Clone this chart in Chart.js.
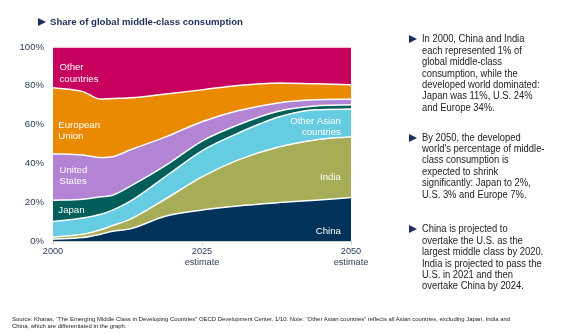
<!DOCTYPE html>
<html>
<head>
<meta charset="utf-8">
<script src="https://cdn.jsdelivr.net/npm/chart.js@4.4.1/dist/chart.umd.min.js"></script>
<style>
  body { margin: 0; width: 564px; height: 334px; background: #fff; overflow: hidden;
         font-family: "Liberation Sans", Arial, sans-serif; position: relative; }
  #chart { position: absolute; left: 0; top: 0; }
  .tri { display: inline-block; width: 0; height: 0; border-top: 4px solid transparent;
         border-bottom: 4px solid transparent; border-left: 8px solid #1b2f5c; }
  #title { position: absolute; left: 38px; top: 16px; font-size: 9.6px; font-weight: bold; color: #1b2f5c; white-space: nowrap; }
  #title .tri { position: absolute; left: 0; top: 2px; }
  #title span.t { margin-left: 12px; }
  .note { position: absolute; left: 409px; font-size: 10px; line-height: 11.4px; color: #222; white-space: nowrap; }
  .note .tri { position: absolute; left: 0; top: 2px; border-left-color: #1b2f5c; }
  .note .txt { position: absolute; left: 13px; top: 0; transform: scaleX(0.94); transform-origin: 0 0; }
  #src { position: absolute; left: 12px; top: 315.5px; font-size: 5.93px; line-height: 7.6px; color: #222; white-space: nowrap; }
</style>
</head>
<body>
<canvas id="chart" width="564" height="334"></canvas>
<div id="title"><i class="tri"></i><span class="t">Share of global middle-class consumption</span></div>
<div class="note" style="top:33.3px"><i class="tri"></i><div class="txt">In 2000, China and India<br>each represented 1% of<br>global middle-class<br>consumption, while the<br>developed world dominated:<br>Japan was 11%, U.S. 24%<br>and Europe 34%.</div></div>
<div class="note" style="top:131.6px"><i class="tri"></i><div class="txt">By 2050, the developed<br>world's percentage of middle-<br>class consumption is<br>expected to shrink<br>significantly: Japan to 2%,<br>U.S. 3% and Europe 7%.</div></div>
<div class="note" style="top:223.3px"><i class="tri"></i><div class="txt">China is projected to<br>overtake the U.S. as the<br>largest middle class by 2020.<br>India is projected to pass the<br>U.S. in 2021 and then<br>overtake China by 2024.</div></div>
<div id="src">Source: Kharas, “The Emerging Middle Class in Developing Countries” OECD Development Center, 1/10. Note: “Other Asian countries” reflects all Asian countries, excluding Japan, India and<br>China, which are differentiated in the graph.</div>
<script>
const years = [2000, 2005, 2008, 2010, 2013, 2019, 2025, 2031, 2038, 2044, 2050];
const china      = [1,   1.8, 3.5, 5,   6.3, 12.9, 16,   18.1, 19.8, 21,   22.4];
const india      = [1,   1.7, 2.3, 3,   5,   9,    17.1, 23.6, 28.8, 31.1, 31.4];
const otherAsia  = [8,   8.3, 8,   7.9, 9.2, 11.6, 13.4, 13.8, 15.4, 15.5, 14.2];
const japan      = [11,  9.7, 9,   7.7, 7.8, 5.6,  5,    4.3,  3,    2,    2.2];
const us         = [24,  22.8,20.2,19.8,18.7,14.7, 10,   7.3,  4.3,  3.2,  2.9];
const eu         = [34,  32.7,30.1,30,  26.8,22,   16.4, 13.1, 10.2, 8.2,  7.4];
const other      = [21,  23,  26.9,26.6,26.2,24.2, 22.1, 19.8, 18.5, 19,   19.5];

const seriesNames = ['China', 'India', 'Other Asian countries', 'Japan', 'United States', 'European Union', 'Other countries'];
const seriesData = [china, india, otherAsia, japan, us, eu, other];
const colors = ['#00325a', '#a6ad56', '#66cce2', '#005e5a', '#b384d4', '#ea8a00', '#c8005d'];
const xTicks = [2000, 2025, 2050];
const xTickLabels = [['2000'], ['2025', 'estimate'], ['2050', 'estimate']];

// in-chart labels: [lines, year, value, align]
const bandLabels = [
  [['Other', 'countries'], 2001.1, 86.6, 'left'],
  [['European', 'Union'], 2000.9, 56.8, 'left'],
  [['United', 'States'], 2001.1, 33.6, 'left'],
  [['Japan'], 2000.9, 15.8, 'left'],
  [['Other Asian', 'countries'], 2048.3, 58.8, 'right'],
  [['India'], 2048.3, 32.6, 'right'],
  [['China'], 2048.3, 5.2, 'right']
];

const labelPlugin = {
  id: 'bandLabels',
  afterDatasetsDraw(chart) {
    const ctx = chart.ctx;
    const xs = chart.scales.x, ys = chart.scales.y;
    ctx.save();
    ctx.fillStyle = '#fff';
    ctx.font = '9.6px "Liberation Sans", Arial, sans-serif';
    ctx.textBaseline = 'middle';
    bandLabels.forEach(l => {
      ctx.textAlign = l[3];
      const px = xs.getPixelForValue(l[1]);
      const py = ys.getPixelForValue(l[2]);
      const lh = 11.7;
      const y0 = py - (l[0].length - 1) * lh / 2;
      l[0].forEach((s, i) => ctx.fillText(s, px, y0 + i * lh));
    });
    ctx.restore();
  }
};

const datasets = seriesNames.map((name, i) => ({
  label: name,
  data: seriesData[i].map((v, j) => ({ x: years[j], y: v })),
  backgroundColor: colors[i],
  borderColor: '#ffffff',
  borderWidth: 1.5,
  pointRadius: 0,
  fill: i === 0 ? 'origin' : '-1',
  cubicInterpolationMode: 'monotone'
}));

new Chart(document.getElementById('chart'), {
  type: 'line',
  data: { datasets: datasets },
  options: {
    responsive: false,
    animation: false,
    layout: { padding: { left: 0, top: 47, right: 213, bottom: 0 } },
    plugins: { legend: { display: false }, tooltip: { enabled: false } },
    scales: {
      x: {
        type: 'linear',
        min: 2000, max: 2050,
        afterBuildTicks: s => { s.ticks = xTicks.map(v => ({ value: v })); },
        afterFit: s => { s.height = 93; },
        border: { color: '#d0d0d0' },
        grid: { drawOnChartArea: false, drawTicks: true, tickLength: 4, color: '#d0d0d0' },
        ticks: {
          color: '#2c3c5a',
          font: { size: 9.2, family: '"Liberation Sans", Arial, sans-serif', lineHeight: 1.2 },
          padding: 1,
          maxRotation: 0,
          callback: v => xTickLabels[xTicks.indexOf(v)]
        }
      },
      y: {
        stacked: true,
        min: 0, max: 100,
        afterFit: s => { s.width = 53; },
        border: { display: false },
        grid: { display: false, drawTicks: false },
        ticks: {
          stepSize: 20,
          color: '#2c3c5a',
          font: { size: 9.6, family: '"Liberation Sans", Arial, sans-serif' },
          padding: 9,
          callback: v => v + '%'
        }
      }
    }
  },
  plugins: [labelPlugin]
});
</script>
</body>
</html>
